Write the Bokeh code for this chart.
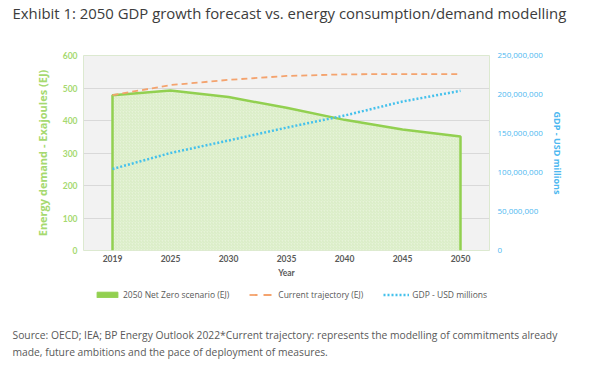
from bokeh.plotting import figure
from bokeh.layouts import column
from bokeh.models import (Range1d, LinearAxis, FixedTicker, NumeralTickFormatter,
                          Legend, LegendItem, Title)
from bokeh.embed import file_html
from bokeh.resources import INLINE

years = ["2019", "2025", "2030", "2035", "2040", "2045", "2050"]
net_zero_ej = [478, 492, 472, 439, 402, 372, 351]
current_ej = [478, 509, 525, 537, 542, 543, 543]
gdp_usd_m = [104.5e6, 125e6, 141e6, 157.5e6, 173e6, 191e6, 204.7e6]
ej_ticks = [0, 100, 200, 300, 400, 500, 600]
gdp_ticks = [0, 50e6, 100e6, 150e6, 200e6, 250e6]

TITLE = "Exhibit 1: 2050 GDP growth forecast vs. energy consumption/demand modelling"
SRC1 = "Source: OECD; IEA; BP Energy Outlook 2022*Current trajectory: represents the modelling of commitments already"
SRC2 = "made, future ambitions and the pace of deployment of measures."
LABELS = ["2050 Net Zero scenario (EJ)", "Current trajectory (EJ)", "GDP - USD millions"]

GREEN = "#92D050"
ORANGE = "#F4A36E"
BLUE = "#45C1EC"
GREY = "#595959"
LGREEN = "#A6D96F"
LBLUE = "#4DB8F0"

W = 600
H_TOP, H_MAIN, H_BOT = 30, 252, 86
xs = list(range(len(years)))
area_x = [xs[0]] + xs + [xs[-1]]
area_y = [0] + net_zero_ej + [0]


def strip(h, top, bottom):
    f = figure(width=W, height=h, output_backend="svg", toolbar_location=None,
               x_range=Range1d(-0.5, len(years) - 0.5), y_range=Range1d(0, 600),
               x_axis_location=None, y_axis_location=None,
               min_border_left=83, min_border_right=111,
               min_border_top=top, min_border_bottom=bottom)
    f.grid.visible = False
    f.outline_line_color = None
    f.background_fill_color = "white"
    f.border_fill_color = "white"
    return f


# ---- title strip
p0 = strip(H_TOP, 0, 0)
p0.title.text = TITLE
p0.title.align = "left"
p0.title.text_font = "Open Sans"
p0.title.text_font_size = "14.9px"
p0.title.text_font_style = "normal"
p0.title.text_color = "#3C3C3C"
p0.title.offset = -71
p0.title.standoff = 0

# ---- main chart
p = figure(width=W, height=H_MAIN, output_backend="svg", toolbar_location=None,
           x_range=Range1d(-0.5, len(years) - 0.5), y_range=Range1d(0, 600),
           min_border_left=83, min_border_right=111, min_border_top=25, min_border_bottom=32)
p.border_fill_color = "white"
p.background_fill_color = "#F2F2F2"
p.outline_line_color = "#DCE9D0"
p.outline_line_width = 1
p.extra_y_ranges = {"gdp": Range1d(0, 250e6)}

p.patch(area_x, area_y, fill_color="#E6F3D8", line_color=None,
        hatch_pattern="right_diagonal_line", hatch_color="#CFE7B5", hatch_scale=3, hatch_weight=0.6)
p.line(area_x, area_y, line_color=GREEN, line_width=2.5)
p.line(xs, current_ej, line_color=ORANGE, line_width=1.8, line_dash="6 4")
p.line(xs, gdp_usd_m, line_color=BLUE, line_width=2.5, line_dash="2 2", y_range_name="gdp")

p.xaxis.ticker = FixedTicker(ticks=xs)
p.xaxis.major_label_overrides = {i: y for i, y in zip(xs, years)}
p.xaxis.axis_label = "Year"
p.xaxis.axis_line_color = None
p.xaxis.major_tick_line_color = None
p.xaxis.minor_tick_line_color = None
p.xaxis.major_tick_out = 0
p.xaxis.major_tick_in = 0
p.xaxis.major_label_standoff = 4
p.xaxis.axis_label_standoff = 3
p.xaxis.major_label_text_font = "Lato"
p.xaxis.major_label_text_font_style = "bold"
p.xaxis.major_label_text_font_size = "8.5px"
p.xaxis.major_label_text_color = GREY
p.xaxis.axis_label_text_font = "Lato"
p.xaxis.axis_label_text_font_style = "bold"
p.xaxis.axis_label_text_font_size = "8.5px"
p.xaxis.axis_label_text_color = GREY

p.yaxis.ticker = FixedTicker(ticks=ej_ticks)
p.yaxis.axis_label = "Energy demand - Exajoules (EJ)"
p.yaxis.axis_line_color = None
p.yaxis.major_tick_line_color = None
p.yaxis.minor_tick_line_color = None
p.yaxis.major_tick_out = 0
p.yaxis.major_tick_in = 0
p.yaxis.major_label_standoff = 6
p.yaxis.axis_label_standoff = 10
p.yaxis.major_label_text_font = "Lato"
p.yaxis.major_label_text_font_style = "bold"
p.yaxis.major_label_text_font_size = "8.5px"
p.yaxis.major_label_text_color = LGREEN
p.yaxis.axis_label_text_font = "Open Sans"
p.yaxis.axis_label_text_font_style = "bold"
p.yaxis.axis_label_text_font_size = "11px"
p.yaxis.axis_label_text_color = LGREEN

ra = LinearAxis(y_range_name="gdp", ticker=FixedTicker(ticks=gdp_ticks),
                formatter=NumeralTickFormatter(format="0,0"), axis_label="GDP - USD millions")
ra.axis_line_color = None
ra.major_tick_line_color = None
ra.minor_tick_line_color = None
ra.major_tick_out = 0
ra.major_tick_in = 0
ra.major_label_standoff = 8
ra.axis_label_standoff = 5
ra.major_label_text_font = "Open Sans"
ra.major_label_text_font_size = "8px"
ra.major_label_text_color = LBLUE
ra.axis_label_text_font = "Open Sans"
ra.axis_label_text_font_style = "bold"
ra.axis_label_text_font_size = "9px"
ra.axis_label_text_color = LBLUE
p.add_layout(ra, "right")

p.xgrid.grid_line_color = None
p.ygrid.grid_line_color = "#D9D9D9"
p.ygrid.grid_line_width = 1

# ---- legend + source strip (frame aligned with main frame)
p2 = strip(H_BOT, 0, 44)
sw = p2.patch(area_x, area_y, fill_color=GREEN, line_color=GREEN, visible=False,
              hatch_pattern="dashed", hatch_color="white", hatch_scale=6, hatch_weight=0.8)
lc = p2.line(xs, current_ej, line_color=ORANGE, line_width=1.8, line_dash="8 6", visible=False)
lg = p2.line(xs, current_ej, line_color=BLUE, line_width=2.5, line_dash="2 2", visible=False)
legend = Legend(items=[LegendItem(label=l, renderers=[r]) for l, r in zip(LABELS, [sw, lc, lg])],
                orientation="horizontal", location=(11, 24))
legend.label_text_font = "Open Sans"
legend.label_text_font_size = "8.5px"
legend.label_text_color = GREY
legend.glyph_width = 26
legend.glyph_height = 7
legend.label_standoff = 3
legend.spacing = 20
legend.padding = 0
legend.margin = 0
legend.border_line_color = None
legend.background_fill_alpha = 0
legend.inactive_fill_alpha = 0
p2.add_layout(legend, "center")

for txt, so in [(SRC1, 2), (SRC2, 0)]:
    p2.add_layout(Title(text=txt, align="left", offset=-71, standoff=so,
                        text_font="Open Sans", text_font_size="10.3px", text_font_style="normal",
                        text_color=GREY), "below")

layout = column(p0, p, p2, spacing=0)
open("out.html", "w").write(file_html(layout, INLINE))
